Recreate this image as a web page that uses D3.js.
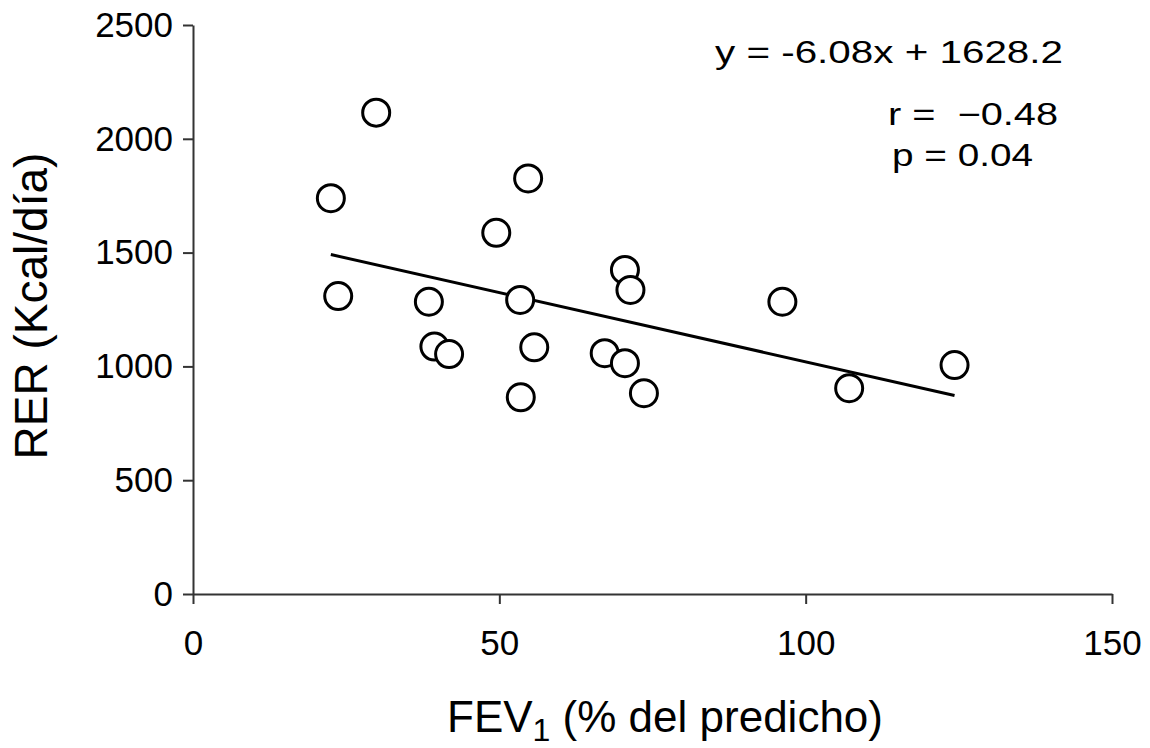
<!DOCTYPE html>
<html>
<head>
<meta charset="utf-8">
<script src="https://cdnjs.cloudflare.com/ajax/libs/d3/7.8.5/d3.min.js"></script>
<style>
  body { margin: 0; background: #fff; }
  svg { display: block; font-family: "Liberation Sans", Arial, sans-serif; }
</style>
</head>
<body>
<div id="chart"></div>
<script>
// FEV1 (% predicted) vs RER (kcal/day)
const fev1 = [29.9, 22.5, 23.7, 54.7, 49.5, 38.5, 53.4, 70.5, 71.4, 39.4,
              41.8, 55.7, 67.2, 70.5, 73.6, 53.5, 96.2, 107.1, 124.3];
const rer  = [2115, 1739, 1309, 1826, 1587, 1284, 1292, 1424, 1336, 1087,
              1054, 1084, 1058, 1014, 882, 864, 1284, 904, 1006];

const xTicks = [0, 50, 100, 150];
const yTicks = [0, 500, 1000, 1500, 2000, 2500];

// regression shown on the chart
const slope = -6.08;
const intercept = 1628.2;
const statLines = ["y = -6.08x + 1628.2", "r =  \u22120.48", "p = 0.04"];

const width = 1150, height = 748;

const svg = d3.select("#chart").append("svg")
    .attr("width", width)
    .attr("height", height);

const x = d3.scaleLinear().domain([0, 150]).range([193, 1112]);
const y = d3.scaleLinear().domain([0, 2500]).range([594, 25]);

const axisColor = "#333";
const fmt = d3.format("d");

// x axis
const gx = svg.append("g")
    .attr("transform", `translate(0,${y(0)})`)
    .call(d3.axisBottom(x).tickValues(xTicks).tickFormat(fmt)
        .tickSize(10).tickPadding(26).tickSizeOuter(0));
gx.select(".domain").attr("stroke", axisColor).attr("stroke-width", 2);
gx.selectAll(".tick line").attr("stroke", axisColor).attr("stroke-width", 2);
gx.selectAll(".tick text")
    .attr("fill", "#000")
    .style("font-size", "35px")
    .style("font-family", "Liberation Sans, Arial, sans-serif");

// y axis
const gy = svg.append("g")
    .attr("transform", `translate(${x(0)},0)`)
    .call(d3.axisLeft(y).tickValues(yTicks).tickFormat(fmt)
        .tickSize(10).tickPadding(10).tickSizeOuter(0));
gy.select(".domain").attr("stroke", axisColor).attr("stroke-width", 2);
gy.selectAll(".tick line").attr("stroke", axisColor).attr("stroke-width", 2);
gy.selectAll(".tick text")
    .attr("fill", "#000")
    .style("font-size", "35px")
    .style("font-family", "Liberation Sans, Arial, sans-serif");

// regression line across the data range
const [xmin, xmax] = d3.extent(fev1);
svg.append("line")
    .attr("x1", x(xmin)).attr("y1", y(slope * xmin + intercept))
    .attr("x2", x(xmax)).attr("y2", y(slope * xmax + intercept))
    .attr("stroke", "#000")
    .attr("stroke-width", 3);

// points
svg.append("g")
    .selectAll("circle")
    .data(fev1.map((v, i) => ({ x: v, y: rer[i] })))
    .join("circle")
    .attr("cx", d => x(d.x))
    .attr("cy", d => y(d.y))
    .attr("r", 13.5)
    .attr("fill", "#fff")
    .attr("stroke", "#000")
    .attr("stroke-width", 3);

// stats text (stretched wide like the original)
const statPos = [
  { x: 715, y: 63, w: 348 },
  { x: 888, y: 125, w: 170 },
  { x: 892, y: 166, w: 141 }
];
svg.append("g")
    .selectAll("text")
    .data(statLines)
    .join("text")
    .attr("x", (d, i) => statPos[i].x)
    .attr("y", (d, i) => statPos[i].y)
    .attr("textLength", (d, i) => statPos[i].w)
    .attr("lengthAdjust", "spacingAndGlyphs")
    .style("font-size", "31px")
    .attr("fill", "#000")
    .attr("xml:space", "preserve")
    .style("white-space", "pre")
    .text(d => d);

// axis titles
const xt = svg.append("text")
    .attr("x", 447)
    .attr("y", 732)
    .style("font-size", "44px")
    .attr("fill", "#000");
xt.append("tspan").text("FEV");
xt.append("tspan").attr("dy", 9).style("font-size", "32px").text("1");
xt.append("tspan").attr("dy", -9).text(" (% del predicho)");

svg.append("text")
    .attr("transform", "translate(47,306) rotate(-90)")
    .attr("text-anchor", "middle")
    .style("font-size", "46px")
    .attr("fill", "#000")
    .text("RER (Kcal/día)");
</script>
</body>
</html>
